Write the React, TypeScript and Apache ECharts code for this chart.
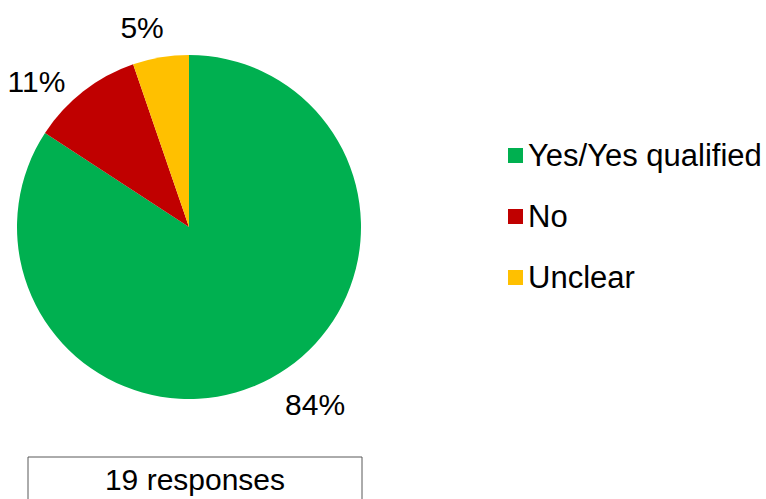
import React, { useEffect, useRef } from "react";
import * as echarts from "echarts";

const categories = ["Yes/Yes qualified", "No", "Unclear"];
const counts = [16, 2, 1];
const colors = ["#00B050", "#C00000", "#FFC000"];
const labelLengths = [32, 13, 30];
const labelShiftX = [-6, -5, 13];
const labelShiftY = [-2, 0, 0];
const responsesText = "19 responses";

const FONT = "'Liberation Sans', Arial, sans-serif";

export default function App() {
  const ref = useRef<HTMLDivElement>(null);
  useEffect(() => {
    if (!ref.current) return;
    const chart = echarts.init(ref.current, undefined, { renderer: "svg" });
    chart.setOption({
      animation: false,
      backgroundColor: "#ffffff",
      textStyle: { fontFamily: FONT },
      legend: {
        orient: "vertical",
        left: 503,
        top: 135,
        icon: "rect",
        itemWidth: 15,
        itemHeight: 15,
        itemGap: 30,
        textStyle: { fontSize: 31, color: "#000", fontFamily: FONT, lineHeight: 30, padding: [0, 0, 0, 0] },
        data: categories,
        selectedMode: false,
      },
      graphic: [
        {
          type: "rect",
          shape: { x: 28, y: 457, width: 334, height: 80 },
          style: { fill: "#fff", stroke: "#595959", lineWidth: 1 },
        },
        {
          type: "text",
          x: 195,
          y: 479,
          style: {
            text: responsesText,
            fontSize: 30,
            fontFamily: FONT,
            fill: "#000",
            align: "center",
            verticalAlign: "middle",
          },
        },
      ],
      series: [
        {
          type: "pie",
          center: [189, 227],
          radius: 172,
          startAngle: 90,
          clockwise: true,
          percentPrecision: 0,
          avoidLabelOverlap: false,
          label: {
            show: true,
            position: "outside",
            formatter: "{d}%",
            fontSize: 30,
            fontFamily: FONT,
            color: "#000",
          },
          labelLine: { show: false, length: 20, length2: 0 },
          labelLayout: (p: any) => ({
            dx: labelShiftX[p.dataIndex],
            dy: labelShiftY[p.dataIndex],
          }),
          data: categories.map((name, i) => ({
            name,
            value: counts[i],
            itemStyle: { color: colors[i] },
            labelLine: { show: false, length: labelLengths[i], length2: 0 },
          })),
        },
      ],
    });
    return () => chart.dispose();
  }, []);
  return (
    <div
      ref={ref}
      style={{ position: "fixed", left: 0, top: 0, width: 766, height: 499 }}
    />
  );
}
